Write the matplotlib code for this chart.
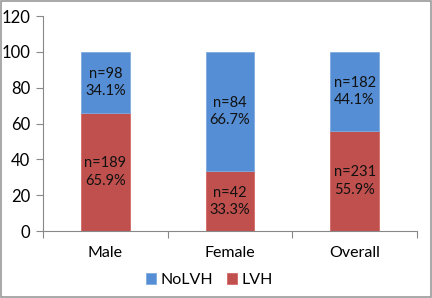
import matplotlib
matplotlib.use("Agg")
import matplotlib.pyplot as plt
from matplotlib.patches import Rectangle

categories = ["Male", "Female", "Overall"]
lvh_pct = [65.9, 33.3, 55.9]
nolvh_pct = [34.1, 66.7, 44.1]
lvh_n = [189, 42, 231]
nolvh_n = [98, 84, 182]
yticks = [0, 20, 40, 60, 80, 100, 120]

plt.rcParams['font.family'] = ['Lato', 'DejaVu Sans']

fig = plt.figure(figsize=(4.32, 2.98), dpi=100)
ax = fig.add_axes([0.0995, 0.2248, 0.8655, 0.7215])

blue = "#558ED5"
red = "#C0504D"
x = list(range(len(categories)))
w = 0.39
ax.bar(x, lvh_pct, width=w, color=red, edgecolor="#D46A67", linewidth=0.6, label="LVH")
ax.bar(x, nolvh_pct, width=w, bottom=lvh_pct, color=blue, edgecolor="#7FAAE0", linewidth=0.6, label="NoLVH")

for i in x:
    ax.text(i, lvh_pct[i] / 2, f"n={lvh_n[i]}\n{lvh_pct[i]:.1f}%", ha="center", va="center",
            fontsize=10.5, color="#111111", linespacing=1.3)
    ax.text(i, lvh_pct[i] + nolvh_pct[i] / 2, f"n={nolvh_n[i]}\n{nolvh_pct[i]:.1f}%", ha="center", va="center",
            fontsize=10.5, color="#111111", linespacing=1.3)

ax.set_xlim(-0.5, 2.5)
ax.set_ylim(0, 120)
ax.set_yticks(yticks)
ax.set_yticklabels([str(v) for v in yticks], fontsize=12)
ax.set_xticks(x)
ax.set_xticklabels(categories, fontsize=11.5)
ax.tick_params(axis="x", length=0, pad=11)
ax.set_xticks([-0.5, 0.5, 1.5, 2.5], minor=True)
ax.tick_params(axis="x", which="minor", length=5, color="#888888", width=0.8)
ax.tick_params(axis="y", length=5, color="#888888", width=0.8, pad=4)
for s in ["top", "right"]:
    ax.spines[s].set_visible(False)
for s in ["left", "bottom"]:
    ax.spines[s].set_color("#888888")
    ax.spines[s].set_linewidth(0.8)

handles, labels = ax.get_legend_handles_labels()
leg = fig.legend(handles[::-1], labels[::-1], loc="center", bbox_to_anchor=(0.485, 0.06), ncol=2,
                 frameon=False, fontsize=11.5, handlelength=0.6, handleheight=0.6,
                 columnspacing=0.85, handletextpad=0.3)

fig.patches.append(Rectangle((0.002, 0.003), 0.996, 0.994, transform=fig.transFigure,
                             fill=False, edgecolor="#999999", linewidth=1.2))

fig.savefig("out.png", dpi=100)
